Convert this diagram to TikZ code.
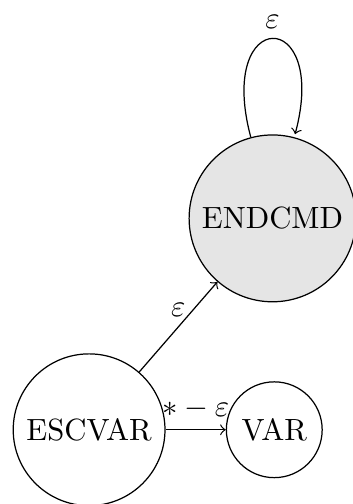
\documentclass[tikz,border=0pt]{standalone}
\usepackage{amsmath}
\usepackage{amssymb}
\usepackage{tikz}
\usetikzlibrary{arrows,shapes}

\begin{document}
\begin{tikzpicture}[state/.style={circle,draw},final/.style={fill=gray!20}]
  \useasboundingbox (-1.02,-0.85) rectangle (3.02,4.92);
  \node[state] (escvar) at (0,0) {ESCVAR};
  \node[state] (var) at (2.12,0) {VAR};
  \node[state,final] (endcmd) at (2.1,2.42) {ENDCMD};
  \draw[->] (escvar) -- node[above] {$\varepsilon$} (endcmd);
  \draw[->] (escvar) -- node[above] {$*-\varepsilon$} (var);
  \draw (endcmd) edge[->,loop above] node[above] {$\varepsilon$} (endcmd);
\end{tikzpicture}
\end{document}
